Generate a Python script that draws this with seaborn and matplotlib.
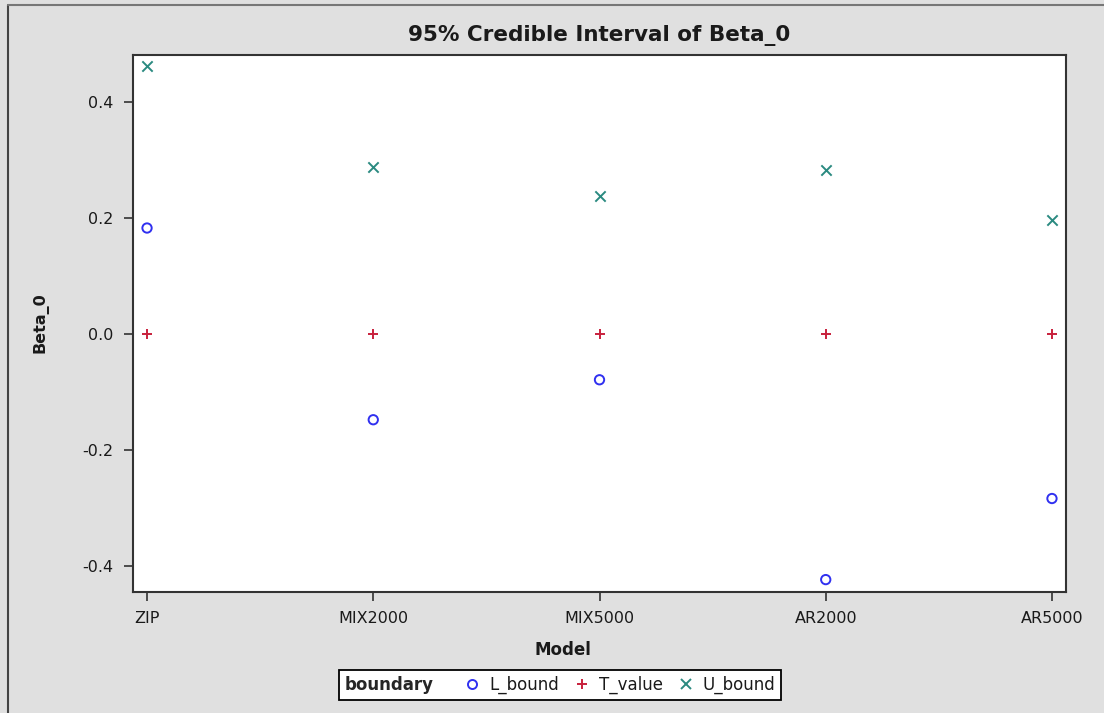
import matplotlib
matplotlib.use("Agg")
import matplotlib.pyplot as plt
import seaborn as sns
import pandas as pd
from matplotlib.lines import Line2D
from matplotlib.offsetbox import HPacker

models = ["ZIP", "MIX2000", "MIX5000", "AR2000", "AR5000"]
l_bound = [0.183, -0.148, -0.079, -0.424, -0.284]
t_value = [0.0, 0.0, 0.0, 0.0, 0.0]
u_bound = [0.462, 0.288, 0.238, 0.284, 0.197]
series_names = ["L_bound", "T_value", "U_bound"]
yticks = [-0.4, -0.2, 0.0, 0.2, 0.4]
ytick_labels = ["-0.4", "-0.2", "0.0", "0.2", "0.4"]

df = pd.DataFrame({
    "Model": models * 3,
    "boundary": sum([[s] * len(models) for s in series_names], []),
    "Beta_0": l_bound + t_value + u_bound,
})

sns.set_theme(style="white")
plt.rcParams["font.family"] = ["DejaVu Sans"]
plt.rcParams["axes.unicode_minus"] = False

BG = "#e0e0e0"
TXT = "#1a1a1a"
colors = {"L_bound": "#3030f0", "T_value": "#c8203c", "U_bound": "#2a8a80"}
markers = {"L_bound": "o", "T_value": "+", "U_bound": "x"}

fig = plt.figure(figsize=(11.04, 7.13), dpi=100, facecolor=BG)
ax = fig.add_axes([133 / 1104, 1 - 592 / 713, (1066 - 133) / 1104, (592 - 55) / 713])
ax.set_facecolor("white")

for s in series_names:
    sub = df[df["boundary"] == s]
    if markers[s] == "o":
        sns.scatterplot(data=sub, x="Model", y="Beta_0", ax=ax, marker="o",
                        s=45, facecolors="none", edgecolor=colors[s],
                        linewidth=1.4, legend=False)
    else:
        sns.scatterplot(data=sub, x="Model", y="Beta_0", ax=ax, marker=markers[s],
                        s=55, color=colors[s], linewidth=1.4, legend=False)

ax.set_xlim(-0.062, 4.062)
ax.set_ylim(-0.4454, 0.4817)
ax.set_yticks(yticks)
ax.set_yticklabels(ytick_labels)
for sp in ax.spines.values():
    sp.set_color("#333333")
    sp.set_linewidth(1.5)
ax.tick_params(axis="both", which="both", direction="out", length=6.5, width=1.2,
               colors="#333333", labelcolor=TXT, labelsize=11.5,
               bottom=True, left=True, top=False, right=False, pad=7.5)
ax.set_xlabel("")
ax.set_ylabel("")

fig.text(40 / 1104, 1 - 323 / 713, "Beta_0", rotation=90, ha="center", va="center",
         fontsize=11.5, fontweight="bold", color=TXT)
fig.text(563 / 1104, 1 - 650 / 713, "Model", ha="center", va="center",
         fontsize=12, fontweight="bold", color=TXT)
fig.text(599 / 1104, 1 - 35 / 713, "95% Credible Interval of Beta_0", ha="center",
         va="center", fontsize=15.5, fontweight="bold", color=TXT)

handles = []
for s in series_names:
    if markers[s] == "o":
        h = Line2D([], [], linestyle="", marker="o", markersize=6.5,
                   markerfacecolor="none", markeredgecolor=colors[s], markeredgewidth=1.4)
    else:
        h = Line2D([], [], linestyle="", marker=markers[s], markersize=7.5,
                   color=colors[s], markeredgewidth=1.4)
    handles.append(h)

leg = fig.legend(handles, series_names, loc="center", bbox_to_anchor=(560 / 1104, 1 - 685 / 713),
                 ncol=3, frameon=True, fancybox=False, edgecolor="black", facecolor="white",
                 framealpha=1.0,
                 fontsize=12, title="boundary", handlelength=1.0, handletextpad=0.5,
                 columnspacing=0.9, borderpad=0.25, borderaxespad=0)
leg.get_frame().set_linewidth(1.3)
leg.get_title().set_fontweight("bold")
leg.get_title().set_fontsize(12)
for t in leg.get_texts():
    t.set_color(TXT)
try:
    title_box = leg._legend_title_box
    handle_box = leg._legend_handle_box
    new_box = HPacker(pad=leg.borderpad * 12 * 100 / 72, sep=22, align="center",
                      children=[title_box, handle_box])
    new_box.set_figure(fig)
    new_box.set_offset(leg._findoffset)
    leg._legend_box = new_box
except Exception:
    pass

# outer frame lines (left and top) of the original screenshot
fig.add_artist(Line2D([8 / 1104, 8 / 1104], [0, 1 - 5 / 713], color="#444444", lw=1.5,
                      transform=fig.transFigure))
fig.add_artist(Line2D([8 / 1104, 1], [1 - 5 / 713, 1 - 5 / 713], color="#777777", lw=1.5,
                      transform=fig.transFigure))

fig.savefig("out.png", dpi=100, facecolor=BG)
